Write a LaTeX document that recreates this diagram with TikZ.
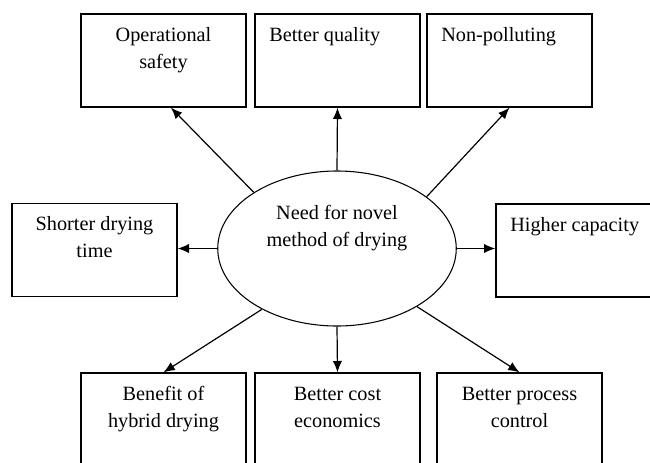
\documentclass[tikz,border=0pt]{standalone}
\usepackage{fontspec}
\setmainfont{Liberation Serif}
\usetikzlibrary{arrows.meta,shapes.geometric}
\tikzset{
  caja/.style={draw, line width=1pt, rectangle, minimum width=123.75pt, minimum height=69.75pt, inner sep=0pt},
  texto/.style={font=\fontsize{15.2}{20.25}\selectfont, inner sep=0pt, align=center},
  flecha/.style={-{Latex[length=8.5pt,width=7pt]}, line width=0.9pt}
}
\begin{document}
\begin{tikzpicture}[x=0.75pt,y=-0.75pt]
		\useasboundingbox (0,0) rectangle (650,462);
		\clip (0,0) rectangle (650,462);
		%%%% ELIPSE
		\node[draw, ellipse, line width=0.8pt, minimum width=178.9pt, minimum height=116.25pt, inner sep=0pt] at (337,248.5) (need) {};
		\node[texto, anchor=base] at (337,246) (needt) {Need for novel\\method of drying};
		%%%% CAJAS ARRIBA
		\node[caja] at (163.5,60.5) (safety) {};
		\node[caja] at (337.5,60.5) (quality) {};
		\node[caja] at (509.5,60.5) (nonpoll) {};
		\node[texto, anchor=base] at (163.5,68) (safetyt) {Operational\\safety};
		\node[texto, anchor=base west] at (269,41) (qualityt) {Better quality};
		\node[texto, anchor=base west] at (441,41) (nonpollt) {Non-polluting};
		%%%% CAJAS LADOS
		\node[caja] at (94.5,250) (shorter) {};
		\node[caja] at (578.5,250.5) (capacity) {};
		\node[texto, anchor=base] at (94.5,257) (shortert) {Shorter drying\\time};
		\node[texto, anchor=base west] at (510,231) (capacityt) {Higher capacity};
		%%%% CAJAS ABAJO
		\node[caja] at (163.5,419.5) (hybrid) {};
		\node[caja] at (337.5,419.5) (cost) {};
		\node[caja] at (519.5,419.5) (control) {};
		\node[texto, anchor=base] at (163.5,427) (hybridt) {Benefit of\\hybrid drying};
		\node[texto, anchor=base] at (337.5,427) (costt) {Better cost\\economics};
		\node[texto, anchor=base] at (519.5,427) (controlt) {Better process\\control};
		%flechas
		\draw[flecha] (need.146) -- (safety.-81);
		\draw[flecha] (need.north) -- (quality.south);
		\draw[flecha] (need.30) -- (nonpoll.south);
		\draw[flecha] (need.west) -- (need.west -| shorter.east);
		\draw[flecha] (need.east) -- (need.east -| capacity.west);
		\draw[flecha] (need.219.5) -- (hybrid.north);
		\draw[flecha] (need.south) -- (cost.north);
		\draw[flecha] (need.-36.8) -- (control.north);
	\end{tikzpicture}
\end{document}
